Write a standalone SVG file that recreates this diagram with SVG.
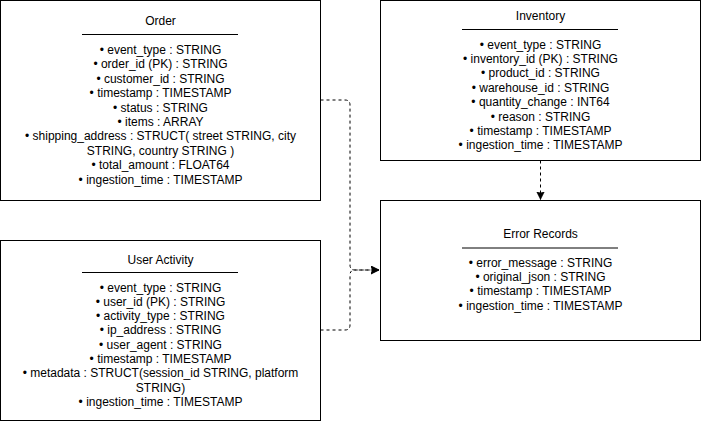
<svg xmlns="http://www.w3.org/2000/svg" width="701" height="421" viewBox="0 0 701 421">
  <style>
    .box { fill: #ffffff; stroke: #000000; stroke-width: 1; }
    .rule { stroke: #000000; stroke-width: 1; }
    .title, .field { font-family: "Liberation Sans", Arial, Helvetica, sans-serif; font-size: 12px; fill: #000000; text-anchor: middle; }
    .edge { fill: none; stroke: #000000; stroke-width: 1; stroke-dasharray: 3 3; }
  </style>
  <defs>
    <marker id="arrow" markerUnits="userSpaceOnUse" markerWidth="10" markerHeight="10" refX="8" refY="4" orient="auto">
      <path d="M0,0 L8,4 L0,8 L1.5,4 Z" fill="#000000" stroke="#000000" stroke-width="0.5"/>
    </marker>
  </defs>
  <rect width="701" height="421" fill="#ffffff"/>

  <!-- Connectors -->
  <g id="connectors">
    <path class="edge" d="M320.5,100 L345,100 Q350,100 350,105 L350,265 Q350,270 355,270 L379,270" marker-end="url(#arrow)"/>
    <path class="edge" d="M320.5,330 L345,330 Q350,330 350,325 L350,275 Q350,270 355,270 L379,270" marker-end="url(#arrow)"/>
    <path class="edge" d="M540.5,160.5 L540.5,199.5" marker-end="url(#arrow)"/>
  </g>

  <!-- Order table -->
  <g id="order">
    <rect class="box" x="0.5" y="0.5" width="320" height="200"/>
    <text class="title" x="160.5" y="25">Order</text>
    <line class="rule" x1="82" y1="34.5" x2="238" y2="34.5"/>
    <text class="field" x="160.5" y="54">• event_type : STRING</text>
    <text class="field" x="160.5" y="68.4">• order_id (PK) : STRING</text>
    <text class="field" x="160.5" y="82.8">• customer_id : STRING</text>
    <text class="field" x="160.5" y="97.2">• timestamp : TIMESTAMP</text>
    <text class="field" x="160.5" y="111.6">• status : STRING</text>
    <text class="field" x="160.5" y="126">• items : ARRAY</text>
    <text class="field" x="160.5" y="140.4">• shipping_address : STRUCT( street STRING, city</text>
    <text class="field" x="160.5" y="154.8">STRING, country STRING )</text>
    <text class="field" x="160.5" y="169.2">• total_amount : FLOAT64</text>
    <text class="field" x="160.5" y="183.6">• ingestion_time : TIMESTAMP</text>
  </g>

  <!-- User Activity table -->
  <g id="user-activity">
    <rect class="box" x="0.5" y="240.5" width="320" height="180"/>
    <text class="title" x="160.5" y="263.5">User Activity</text>
    <line class="rule" x1="82" y1="272.5" x2="238" y2="272.5"/>
    <text class="field" x="160.5" y="291.5">• event_type : STRING</text>
    <text class="field" x="160.5" y="305.8">• user_id (PK) : STRING</text>
    <text class="field" x="160.5" y="320.1">• activity_type : STRING</text>
    <text class="field" x="160.5" y="334.4">• ip_address : STRING</text>
    <text class="field" x="160.5" y="348.7">• user_agent : STRING</text>
    <text class="field" x="160.5" y="363">• timestamp : TIMESTAMP</text>
    <text class="field" x="160.5" y="377.3">• metadata : STRUCT(session_id STRING, platform</text>
    <text class="field" x="160.5" y="391.6">STRING)</text>
    <text class="field" x="160.5" y="405.9">• ingestion_time : TIMESTAMP</text>
  </g>

  <!-- Inventory table -->
  <g id="inventory">
    <rect class="box" x="380.5" y="0.5" width="320" height="160"/>
    <text class="title" x="540.5" y="20">Inventory</text>
    <line class="rule" x1="462" y1="29.5" x2="618" y2="29.5"/>
    <text class="field" x="540.5" y="48.5">• event_type : STRING</text>
    <text class="field" x="540.5" y="62.9">• inventory_id (PK) : STRING</text>
    <text class="field" x="540.5" y="77.3">• product_id : STRING</text>
    <text class="field" x="540.5" y="91.7">• warehouse_id : STRING</text>
    <text class="field" x="540.5" y="106.1">• quantity_change : INT64</text>
    <text class="field" x="540.5" y="120.5">• reason : STRING</text>
    <text class="field" x="540.5" y="134.9">• timestamp : TIMESTAMP</text>
    <text class="field" x="540.5" y="149.3">• ingestion_time : TIMESTAMP</text>
  </g>

  <!-- Error Records table -->
  <g id="error-records">
    <rect class="box" x="380.5" y="200.5" width="320" height="140"/>
    <text class="title" x="540.5" y="238">Error Records</text>
    <line class="rule" x1="462" y1="248" x2="618" y2="248"/>
    <text class="field" x="540.5" y="266.5">• error_message : STRING</text>
    <text class="field" x="540.5" y="280.9">• original_json : STRING</text>
    <text class="field" x="540.5" y="295.3">• timestamp : TIMESTAMP</text>
    <text class="field" x="540.5" y="309.7">• ingestion_time : TIMESTAMP</text>
  </g>
</svg>
